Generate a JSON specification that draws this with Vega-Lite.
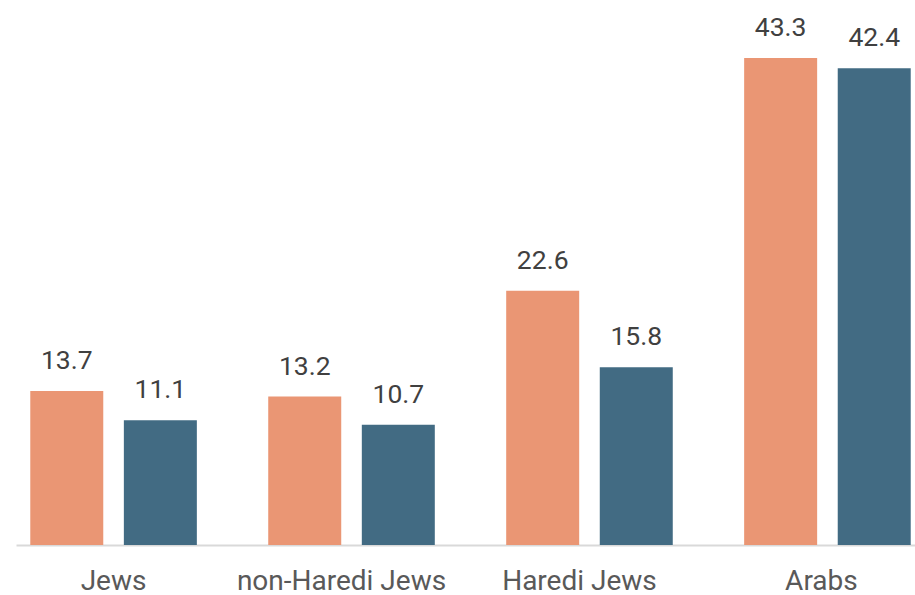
{
  "$schema": "https://vega.github.io/schema/vega-lite/v6.json",
  "autosize": {"type": "fit", "contains": "padding"},
  "width": 915,
  "height": 595,
  "padding": {"left": 16, "right": -10, "top": 0, "bottom": 0},
  "background": "white",
  "config": {"view": {"stroke": null}, "font": "Roboto"},
  "data": {
    "values": [
      {"group": "Jews", "series": "A", "value": 13.7},
      {"group": "Jews", "series": "B", "value": 11.1},
      {"group": "non-Haredi Jews", "series": "A", "value": 13.2},
      {"group": "non-Haredi Jews", "series": "B", "value": 10.7},
      {"group": "Haredi Jews", "series": "A", "value": 22.6},
      {"group": "Haredi Jews", "series": "B", "value": 15.8},
      {"group": "Arabs", "series": "A", "value": 43.3},
      {"group": "Arabs", "series": "B", "value": 42.4}
    ]
  },
  "encoding": {
    "x": {
      "field": "group", "type": "nominal", "sort": null,
      "scale": {"paddingInner": 0.3, "paddingOuter": 0.06},
      "axis": {
        "title": null, "ticks": false, "labelAngle": 0, "labelLimit": 0,
        "labelFont": "Roboto", "labelFontSize": 28, "labelColor": "#595959",
        "labelPadding": 22, "domainColor": "#d9d9d9", "domainWidth": 2,
        "labelOffset": {
          "condition": [
            {"test": "datum.value === 'Jews'", "value": 0},
            {"test": "datum.value === 'Arabs'", "value": -6}
          ],
          "value": -10
        }
      }
    },
    "xOffset": {"field": "series", "type": "nominal", "scale": {"paddingInner": 0.22, "paddingOuter": 0}},
    "y": {
      "field": "value", "type": "quantitative",
      "scale": {"domain": [0, 48.46], "nice": false},
      "axis": null
    }
  },
  "layer": [
    {
      "mark": {"type": "bar"},
      "encoding": {
        "color": {
          "field": "series", "type": "nominal",
          "scale": {"domain": ["A", "B"], "range": ["#EA9674", "#426B83"]},
          "legend": null
        }
      }
    },
    {
      "mark": {"type": "text", "baseline": "alphabetic", "dy": -22, "fontSize": 26.5, "font": "Roboto", "color": "#404040"},
      "encoding": {"text": {"field": "value", "type": "quantitative", "format": ".1f"}}
    }
  ]
}
